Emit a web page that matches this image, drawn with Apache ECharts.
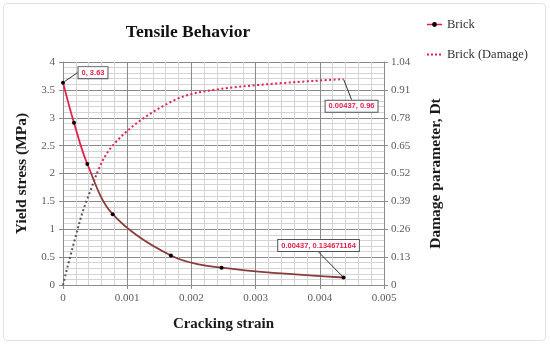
<!DOCTYPE html>
<html><head><meta charset="utf-8">
<script src="https://cdn.jsdelivr.net/npm/echarts@6/dist/echarts.min.js"></script>
<style>
html,body{margin:0;padding:0;background:#fff;}
#c{width:550px;height:345px;}
#frame{position:absolute;left:3px;top:3px;width:541px;height:336px;border:1px solid #e2e2e2;border-radius:4px;pointer-events:none;}
</style></head>
<body>
<div id="c"></div><div id="frame"></div>
<script>
const strain = [0, 0.000171, 0.000379, 0.000774, 0.00168, 0.00247, 0.00437];
const stress = [3.63, 2.91, 2.17, 1.27, 0.53, 0.31, 0.134671164];
const damage = [0, 0.198, 0.402, 0.65, 0.854, 0.915, 0.96];
const xTicks = [0, 0.001, 0.002, 0.003, 0.004, 0.005];
const seriesNames = ['Brick', 'Brick (Damage)'];

const SERIF = '"Liberation Serif", "DejaVu Serif", serif';
const RED = '#e3204a';
const BROWN = '#8a3c3c';

function labelCfg(text) {
  return {show: true, formatter: text, position: 'inside',
    fontFamily: '"Liberation Sans", Arial, sans-serif', fontSize: 7.5, fontWeight: 'bold',
    color: RED, backgroundColor: '#fff', borderColor: '#555', borderWidth: 1, padding: [2, 3, 1, 3]};
}

const brickData = strain.map((s, i) => {
  const d = {value: [s, stress[i]]};
  if (i === 0) d.label = labelCfg('0, 3.63');
  if (i === strain.length - 1) d.label = labelCfg(strain[i] + ', ' + stress[i]);
  return d;
});
const damageData = strain.map((s, i) => {
  const d = {value: [s, damage[i]]};
  if (i === strain.length - 1) d.label = labelCfg(strain[i] + ', ' + damage[i]);
  return d;
});

const chart = echarts.init(document.getElementById('c'), null, {renderer: 'canvas'});
const axisLabel = {fontFamily: SERIF, fontSize: 11, color: '#5a5a5a'};
const axisLine = {show: true, lineStyle: {color: '#8c8c8c', width: 1}};
const axisTick = {show: true, length: 4, lineStyle: {color: '#8c8c8c'}};
const nameStyle = {fontFamily: SERIF, fontSize: 15.5, fontWeight: 'bold', color: '#1a1a1a'};

chart.setOption({
  animation: false,
  backgroundColor: '#fff',
  title: {text: 'Tensile Behavior', left: 183, top: 18, textAlign: 'center',
    textStyle: {fontFamily: SERIF, fontSize: 17.5, fontWeight: 'bold', color: '#111'}},
  legend: {orient: 'vertical', left: 421, top: 13, itemWidth: 15, itemHeight: 6, itemGap: 17,
    textStyle: {fontFamily: SERIF, fontSize: 12.5, color: '#333'},
    data: [
      {name: seriesNames[0], itemStyle: {color: '#000'}, lineStyle: {color: RED, width: 1.5}},
      {name: seriesNames[1], lineStyle: {color: RED, type: [2, 2], width: 2}, itemStyle: {color: 'transparent', opacity: 0}}
    ]},
  grid: {left: 63, right: 166, top: 62, bottom: 60},
  xAxis: {type: 'value', min: xTicks[0], max: xTicks[xTicks.length - 1], interval: 0.001,
    name: 'Cracking strain', nameLocation: 'middle', nameGap: 32,
    nameTextStyle: Object.assign({}, nameStyle, {fontSize: 15}),
    axisLine: axisLine, axisTick: axisTick, axisLabel: Object.assign({margin: 8}, axisLabel),
    splitLine: {show: true, lineStyle: {color: '#8a8a8a', width: 1}},
    minorTick: {show: false, splitNumber: 5},
    minorSplitLine: {show: true, lineStyle: {color: '#d4d4d4', width: 1}}},
  yAxis: [
    {type: 'value', min: 0, max: 4, interval: 0.5, position: 'left',
      name: 'Yield stress (MPa)', nameLocation: 'middle', nameGap: 30, nameTextStyle: nameStyle,
      axisLine: axisLine, axisTick: axisTick, axisLabel: Object.assign({margin: 8}, axisLabel),
      splitLine: {show: true, lineStyle: {color: '#8a8a8a', width: 1}},
      minorTick: {show: false, splitNumber: 5},
      minorSplitLine: {show: true, lineStyle: {color: '#d4d4d4', width: 1}}},
    {type: 'value', min: 0, max: 1.04, interval: 0.13, position: 'right',
      name: 'Damage parameter, Dt', nameLocation: 'middle', nameGap: 44, nameTextStyle: nameStyle,
      axisLine: axisLine, axisTick: axisTick,
      axisLabel: Object.assign({margin: 7, formatter: v => String(+v.toFixed(2))}, axisLabel),
      splitLine: {show: false}}
  ],
  series: [
    {name: seriesNames[0], type: 'line', yAxisIndex: 0, data: brickData, smooth: 0.35,
      symbol: 'circle', symbolSize: 4, showSymbol: true,
      itemStyle: {color: '#000'},
      lineStyle: {width: 1.8, color: {type: 'linear', x: 0, y: 0, x2: 0, y2: 1,
        colorStops: [{offset: 0, color: RED}, {offset: 0.45, color: RED}, {offset: 0.49, color: BROWN}, {offset: 1, color: BROWN}]}},
      labelLine: {show: true, lineStyle: {color: '#333', width: 1}},
      labelLayout: p => p.dataIndex === 0 ? {dx: 30, dy: -10} : {dx: -25, dy: -32},
      z: 3},
    {name: seriesNames[1], type: 'line', yAxisIndex: 1, data: damageData, smooth: 0.35,
      symbol: 'circle', symbolSize: 1, showSymbol: true,
      itemStyle: {color: 'transparent'},
      lineStyle: {width: 2, type: [2, 2.5], color: {type: 'linear', x: 0, y: 0, x2: 0, y2: 1,
        colorStops: [{offset: 0, color: RED}, {offset: 0.44, color: RED}, {offset: 0.48, color: '#6e4a4a'}, {offset: 1, color: '#555'}]}},
      labelLine: {show: true, lineStyle: {color: '#333', width: 1}},
      labelLayout: p => ({dx: 8, dy: 27}),
      z: 2}
  ]
});
</script>
</body></html>
